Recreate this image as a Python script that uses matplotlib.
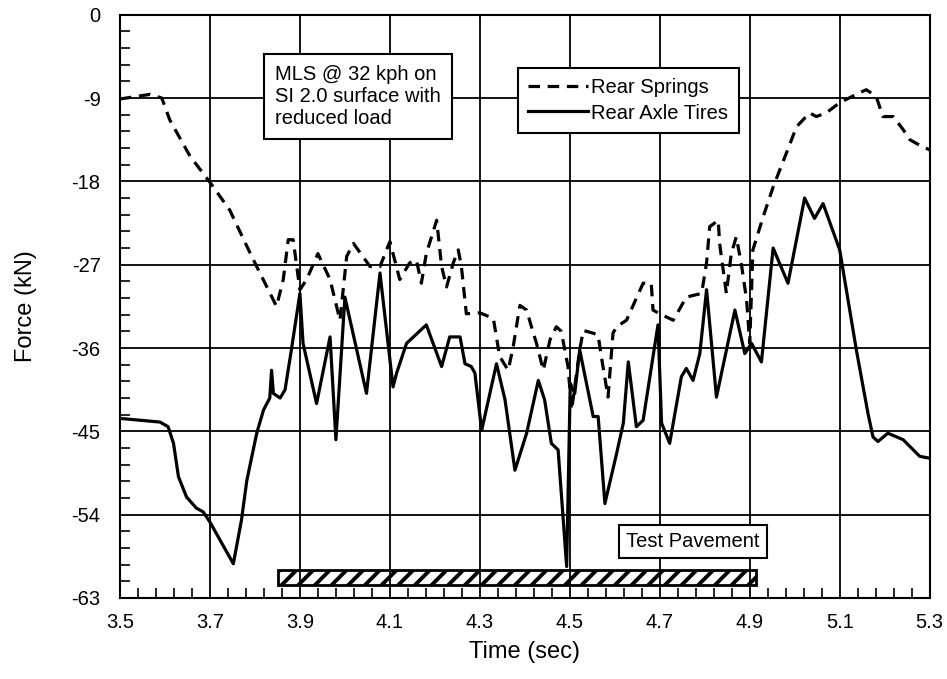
import matplotlib.pyplot as plt
from matplotlib.patches import Rectangle
from matplotlib.ticker import AutoMinorLocator

plt.rcParams['font.family'] = ['Liberation Sans', 'DejaVu Sans']
plt.rcParams['axes.unicode_minus'] = False
plt.rcParams['hatch.linewidth'] = 2.8

# rear springs (dashed)
spr_t = [3.5, 3.567, 3.593, 3.611, 3.656, 3.70, 3.744, 3.782, 3.804, 3.848, 3.863,
         3.874, 3.885, 3.893, 3.9, 3.915, 3.94, 3.967, 3.989, 4.004, 4.019, 4.056,
         4.078, 4.1, 4.122, 4.144, 4.159, 4.17, 4.181, 4.204, 4.215, 4.226, 4.241,
         4.252, 4.259, 4.27, 4.3, 4.33, 4.344, 4.363, 4.374, 4.389, 4.404, 4.419,
         4.426, 4.441, 4.456, 4.47, 4.481, 4.496, 4.504, 4.522, 4.53, 4.552, 4.563,
         4.57, 4.585, 4.596, 4.604, 4.626, 4.663, 4.681, 4.685, 4.7, 4.73, 4.759,
         4.793, 4.804, 4.811, 4.83, 4.833, 4.848, 4.859, 4.87, 4.881, 4.893, 4.9,
         4.907, 4.93, 4.952, 4.981, 5.004, 5.033, 5.048, 5.07, 5.1, 5.137, 5.159,
         5.181, 5.196, 5.219, 5.241, 5.256, 5.278, 5.3]
spr_f = [-9.1, -8.6, -9.0, -11.4, -15.3, -18.1, -21.1, -25.0, -27.2, -31.5, -28.6,
         -24.3, -24.3, -27.2, -29.7, -28.6, -25.8, -28.6, -33.0, -26.1, -24.7, -27.2,
         -27.2, -24.5, -28.6, -26.8, -26.5, -29.0, -25.8, -22.2, -27.2, -29.4, -26.8,
         -25.4, -27.2, -32.3, -32.2, -32.8, -36.9, -38.4, -35.9, -31.4, -31.9, -34.4,
         -35.5, -38.4, -35.1, -33.7, -34.2, -38.0, -42.7, -36.2, -34.1, -34.4, -34.6,
         -36.9, -41.3, -34.4, -33.7, -33.0, -29.0, -29.0, -31.9, -32.3, -33.0, -30.5,
         -30.1, -26.8, -22.9, -22.2, -24.7, -30.1, -25.8, -24.0, -26.8, -30.8, -35.5,
         -25.4, -21.8, -18.6, -15.0, -12.1, -10.6, -11.0, -10.6, -9.5, -8.6, -8.1,
         -8.8, -11.0, -11.0, -12.4, -13.5, -14.1, -14.6]

# rear axle tires (solid)
tire_t = [3.5, 3.589, 3.607, 3.619, 3.63, 3.648, 3.67, 3.685, 3.7, 3.752, 3.77,
          3.782, 3.804, 3.819, 3.833, 3.837, 3.841, 3.856, 3.867, 3.881, 3.9, 3.907,
          3.937, 3.967, 3.98, 4.0, 4.048, 4.078, 4.107, 4.115, 4.137, 4.181, 4.215,
          4.233, 4.256, 4.267, 4.281, 4.289, 4.304, 4.337, 4.356, 4.378, 4.404, 4.43,
          4.444, 4.459, 4.474, 4.493, 4.501, 4.511, 4.522, 4.552, 4.563, 4.578, 4.604,
          4.619, 4.63, 4.648, 4.663, 4.696, 4.704, 4.722, 4.748, 4.759, 4.774, 4.789,
          4.804, 4.826, 4.867, 4.889, 4.904, 4.926, 4.952, 4.985, 5.022, 5.044, 5.063,
          5.1, 5.137, 5.163, 5.174, 5.185, 5.207, 5.241, 5.278, 5.3]
tire_f = [-43.6, -44.0, -44.5, -46.3, -49.9, -52.1, -53.3, -53.7, -54.8, -59.3, -54.6,
          -50.3, -45.2, -42.7, -41.4, -38.4, -40.9, -41.4, -40.5, -36.2, -30.1, -35.5,
          -42.0, -34.8, -45.9, -30.5, -40.9, -27.9, -40.2, -38.7, -35.5, -33.5, -38.0,
          -34.8, -34.8, -37.7, -38.0, -38.7, -44.9, -37.7, -41.6, -49.2, -45.2, -39.5,
          -41.6, -46.3, -47.0, -59.6, -39.8, -40.9, -36.2, -43.4, -43.4, -52.8, -47.4,
          -44.1, -37.5, -44.5, -43.8, -33.5, -44.1, -46.3, -39.1, -38.2, -39.5, -36.6,
          -29.7, -41.3, -31.9, -36.6, -35.5, -37.5, -25.2, -29.0, -19.8, -22.0, -20.4,
          -25.4, -36.2, -43.1, -45.6, -46.1, -45.2, -45.9, -47.7, -47.9]

pave_start, pave_end = 3.852, 4.915
xticks = [3.5, 3.7, 3.9, 4.1, 4.3, 4.5, 4.7, 4.9, 5.1, 5.3]
yticks = [-63, -54, -45, -36, -27, -18, -9, 0]

fig = plt.figure(figsize=(9.47, 6.79), dpi=100)
ax = fig.add_axes([0.1267, 0.1193, 0.855, 0.859])

ax.plot(spr_t, spr_f, color='black', lw=2.3, linestyle=(0, (3.6, 2.4)), label='Rear Springs')
ax.plot(tire_t, tire_f, color='black', lw=2.3, label='Rear Axle Tires')

ax.add_patch(Rectangle((pave_start, -61.6), pave_end - pave_start, 1.6,
                       facecolor='white', edgecolor='black', hatch='//', lw=2))
ax.text(4.774, -56.9, 'Test Pavement', ha='center', va='center', fontsize=14.5,
        bbox=dict(boxstyle='square,pad=0.35', facecolor='white', edgecolor='black', lw=1.5))
ax.text(3.845, -8.8, 'MLS @ 32 kph on\nSI 2.0 surface with\nreduced load', ha='left', va='center',
        fontsize=14.5, linespacing=1.2,
        bbox=dict(boxstyle='square,pad=0.55', facecolor='white', edgecolor='black', lw=1.5))

leg = ax.legend(loc='upper left', bbox_to_anchor=(0.4915, 0.908), fontsize=14.5, frameon=True,
                fancybox=False, edgecolor='black', handlelength=3.0, handletextpad=0.15,
                borderpad=0.5, labelspacing=0.3, borderaxespad=0)
leg.get_frame().set_linewidth(1.5)
leg.get_frame().set_alpha(1)

ax.set_xlim(3.5, 5.3)
ax.set_ylim(-63, 0)
ax.set_xticks(xticks)
ax.set_xticklabels([f'{v:.1f}' for v in xticks])
ax.set_yticks(yticks)
ax.xaxis.set_minor_locator(AutoMinorLocator(5))
ax.yaxis.set_minor_locator(AutoMinorLocator(5))
ax.tick_params(which='both', direction='in', labelsize=14.5, color='black', width=1.2)
ax.tick_params(which='major', length=0)
ax.tick_params(axis='y', which='major', pad=14)
ax.tick_params(axis='x', which='major', pad=11)
ax.tick_params(which='minor', length=7)
ax.grid(True, which='major', color='black', lw=1.3)
for s in ax.spines.values():
    s.set_linewidth(1.5)

ax.set_xlabel('Time (sec)', fontsize=17, labelpad=6)
ax.set_ylabel('Force (kN)', fontsize=17, labelpad=25)

fig.savefig('out.png', dpi=100)
